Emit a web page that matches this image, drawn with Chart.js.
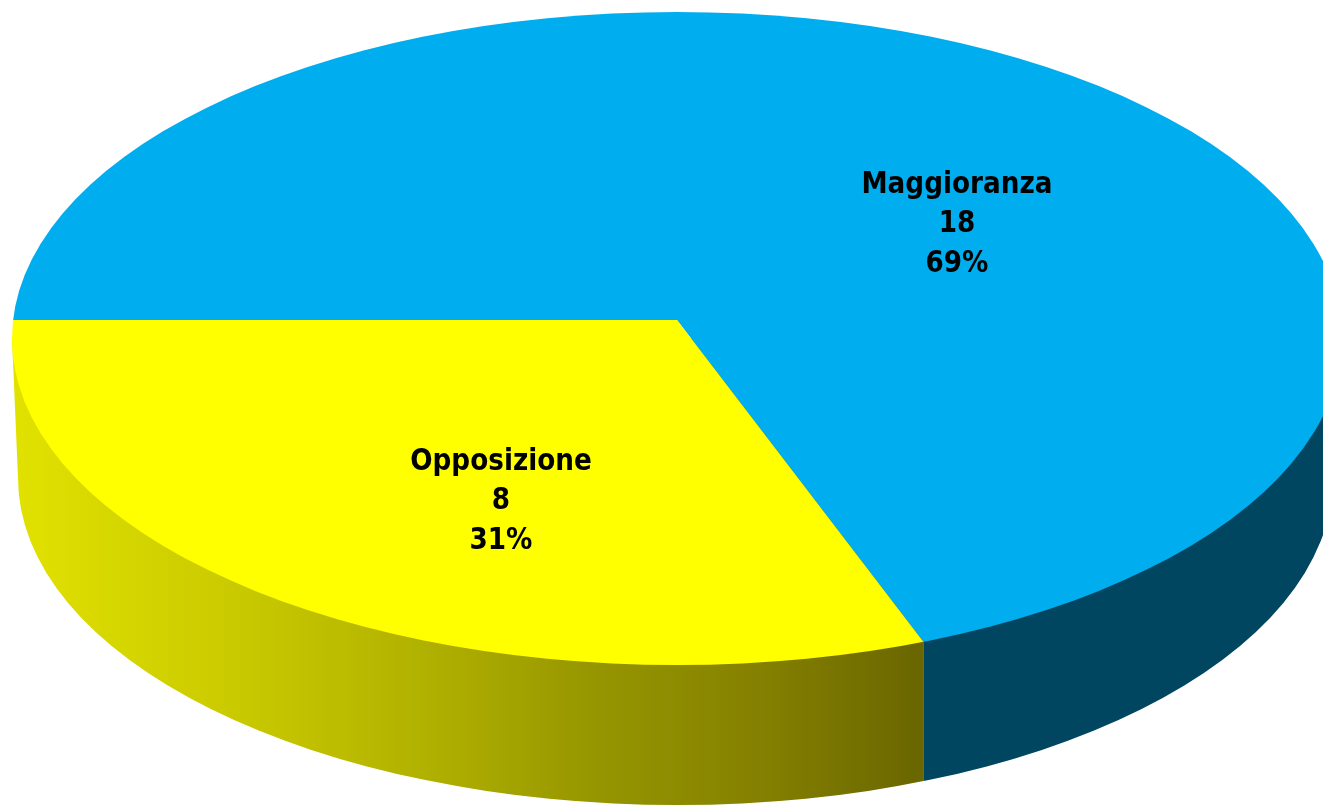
<!DOCTYPE html>
<html>
<head>
<meta charset="utf-8">
<style>html,body{margin:0;padding:0;background:#fff;overflow:hidden}canvas{display:block}</style>
<script src="https://cdn.jsdelivr.net/npm/chart.js@4/dist/chart.umd.min.js"></script>
</head>
<body>
<canvas id="c" width="1323" height="805"></canvas>
<script>
const categories = ['Maggioranza', 'Opposizione'];
const seats = [18, 8];
const faceColors = ['#00AEEF', '#FFFF00'];

// 3D projection of the pie
const apex = {x: 677, y: 320};
const top3d = {x: 677, y: 338.5, rx: 665, ry: 326.5};
const bottom3d = {x: 678, y: 478, rxLeft: 660, rxRight: 655, ry: 327};
const reach = 900, squash = 0.4954;
const labelSpots = [{x: 957, y: 185}, {x: 501, y: 462}];
const lineGap = 39.5;
const labelStretch = 1.13;
const wallShade = [[12, '#E2E200'], [100, '#D8D800'], [250, '#C8C800'], [430, '#B0B000'], [600, '#959500'], [750, '#868200'], [922, '#6A6600']];

function edgeX(angle) {
  // where a slice boundary meets the outline of the top face
  const dx = Math.cos(angle) * reach, dy = Math.sin(angle) * reach * squash;
  const ox = apex.x - top3d.x, oy = apex.y - top3d.y;
  const a = dx*dx/(top3d.rx*top3d.rx) + dy*dy/(top3d.ry*top3d.ry);
  const b = 2*(ox*dx/(top3d.rx*top3d.rx) + oy*dy/(top3d.ry*top3d.ry));
  const c = ox*ox/(top3d.rx*top3d.rx) + oy*oy/(top3d.ry*top3d.ry) - 1;
  const t = (-b + Math.sqrt(b*b - 4*a*c)) / (2*a);
  return apex.x + dx*t;
}

const pie3d = {
  id: 'pie3d',
  beforeDatasetsDraw(chart) {
    const ctx = chart.ctx, meta = chart.getDatasetMeta(0), arc = meta.data[0];
    const total = seats.reduce((s, v) => s + v, 0);
    const split = edgeX(meta.data[1].startAngle);

    // side wall
    ctx.save();
    ctx.beginPath();
    ctx.ellipse(bottom3d.x, bottom3d.y, bottom3d.rxRight, bottom3d.ry, 0, 0, Math.PI / 2);
    ctx.ellipse(bottom3d.x, bottom3d.y, bottom3d.rxLeft, bottom3d.ry, 0, Math.PI / 2, Math.PI);
    ctx.lineTo(top3d.x - top3d.rx, top3d.y);
    ctx.lineTo(top3d.x + top3d.rx, top3d.y);
    ctx.closePath();
    ctx.clip();
    const g = ctx.createLinearGradient(wallShade[0][0], 0, wallShade[wallShade.length - 1][0], 0);
    const span = wallShade[wallShade.length - 1][0] - wallShade[0][0];
    wallShade.forEach(([x, col]) => g.addColorStop((x - wallShade[0][0]) / span, col));
    ctx.fillStyle = g;
    ctx.fillRect(0, 300, split, 520);
    ctx.fillStyle = '#004660';
    ctx.fillRect(split, 300, 1323 - split, 520);
    ctx.restore();

    // top face: the library's own arcs, projected and clipped to the outline
    ctx.save();
    ctx.beginPath();
    ctx.ellipse(top3d.x, top3d.y, top3d.rx, top3d.ry, 0, 0, Math.PI * 2);
    ctx.clip();
    const s = reach / arc.outerRadius;
    ctx.translate(apex.x, apex.y);
    ctx.scale(s, s * squash);
    ctx.translate(-arc.x, -arc.y);
    meta.controller.draw();
    ctx.restore();

    // labels
    ctx.save();
    ctx.fillStyle = '#000';
    ctx.font = 'bold 26.3px "DejaVu Sans"';
    ctx.textAlign = 'center';
    ctx.textBaseline = 'middle';
    categories.forEach((name, i) => {
      const lines = [name, String(seats[i]), Math.round(seats[i] / total * 100) + '%'];
      lines.forEach((t, k) => {
        ctx.save();
        ctx.translate(labelSpots[i].x, labelSpots[i].y + k * lineGap);
        ctx.scale(1, labelStretch);
        ctx.fillText(t, 0, 0);
        ctx.restore();
      });
    });
    ctx.restore();
    return false;
  }
};

new Chart(document.getElementById('c'), {
  type: 'pie',
  data: {
    labels: categories,
    datasets: [{data: seats, backgroundColor: faceColors, borderWidth: 0}]
  },
  options: {
    responsive: false,
    animation: false,
    rotation: -90,
    layout: {padding: 0},
    plugins: {legend: {display: false}, tooltip: {enabled: false}, title: {display: false}}
  },
  plugins: [pie3d]
});
</script>
</body>
</html>
